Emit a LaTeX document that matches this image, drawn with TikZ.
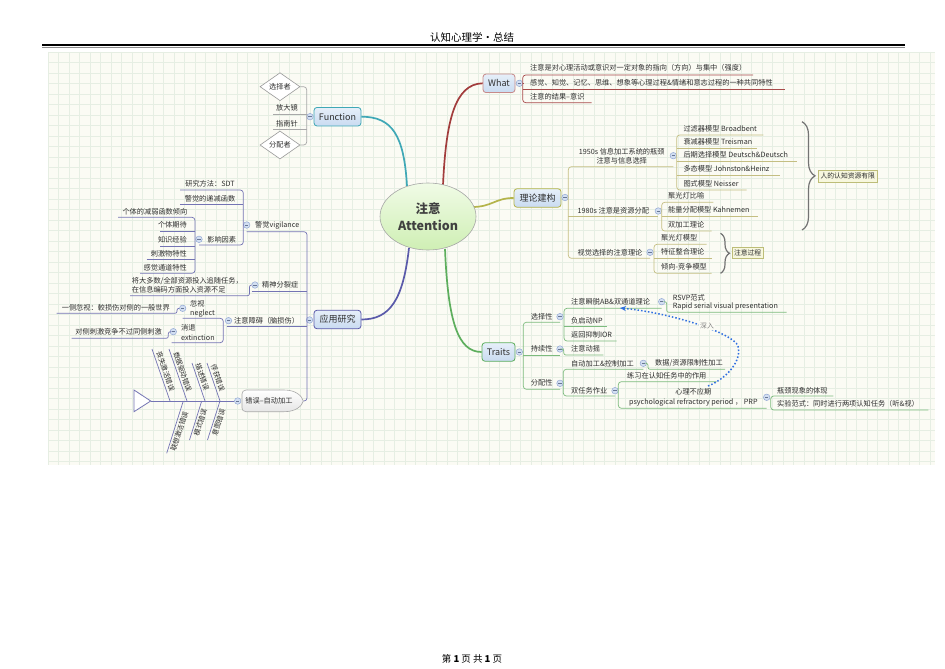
\documentclass[tikz,border=0pt]{standalone}
\usepackage{fontspec}
\setmainfont{Noto Sans CJK SC}
\usetikzlibrary{arrows.meta,shapes.geometric,decorations.pathreplacing,calc}
\definecolor{txt}{HTML}{2E2E2E}
\definecolor{gridbg}{HTML}{FBFBF4}
\definecolor{gridln}{HTML}{E6EEE3}
\definecolor{cred}{HTML}{A23C3C}
\definecolor{cteal}{HTML}{3FA8B6}
\definecolor{colive}{HTML}{B4B44A}
\definecolor{cgreen}{HTML}{5DAE5D}
\definecolor{cpurp}{HTML}{5A5AAA}
\definecolor{lred}{HTML}{A84A4A}
\definecolor{lgray}{HTML}{A8A8A8}
\definecolor{lolive}{HTML}{C4BE82}
\definecolor{lgreen}{HTML}{7DBB7D}
\definecolor{lpurp}{HTML}{7474B4}
\definecolor{topf1}{HTML}{E6EFF9}
\definecolor{topf2}{HTML}{C9DBF1}
\definecolor{circf}{HTML}{D3DFF2}
\definecolor{circd}{HTML}{93A8D4}
\definecolor{boxf}{HTML}{F7F7DE}
\definecolor{boxd}{HTML}{BDBD78}
\definecolor{dotb}{HTML}{2F6FE0}
\definecolor{ellf1}{HTML}{F0FBE6}
\definecolor{ellf2}{HTML}{CFEFB4}
\tikzset{
  t/.style={font=\fontsize{7.2}{9.5}\selectfont, inner sep=0pt, text=txt},
  tl/.style={t, anchor=west},
  tr/.style={t, anchor=east},
  fb/.style={font=\fontsize{6.9}{8}\selectfont, inner sep=0pt, text=txt},
  coll/.style={circle, draw=circd, fill=circf, line width=0.5pt, minimum size=6.5pt, inner sep=0pt,
     path picture={\draw[circd!70!black, line width=0.6pt] ([xshift=-1.7pt]path picture bounding box.center) -- ([xshift=1.7pt]path picture bounding box.center);}},
  topic/.style={draw=#1, rounded corners=3pt, top color=topf1, bottom color=topf2, line width=0.8pt, minimum height=18.5pt, inner xsep=3pt, font=\fontsize{9}{10}\selectfont, text=txt},
  mainc/.style={line width=1.7pt},
  sl/.style={line width=0.7pt, rounded corners=3pt},
  note/.style={draw=boxd, fill=boxf, line width=0.6pt, inner xsep=2pt, inner ysep=2.5pt, font=\fontsize{6.8}{8}\selectfont, text=txt},
  brc/.style={decorate, draw=black!55, line width=1.2pt},
  dia/.style={diamond, aspect=1.45, draw=black!40, fill=white, line width=0.6pt, inner sep=1pt, minimum width=40pt, minimum height=28pt, font=\fontsize{7.2}{9}\selectfont, text=txt},
}
\begin{document}
\begin{tikzpicture}[x=1pt,y=-1pt]
\useasboundingbox (0,0) rectangle (945,669);
\fill[white] (0,0) rectangle (945,669);
% header / footer
\node[font=\fontsize{10.5}{12}\selectfont, text=black] (hdr) at (472,37) {认知心理学·总结};
\draw[line width=1.3pt] (42,45) -- (905,45);
\draw[black!45, line width=0.5pt] (42,47.6) -- (905,47.6);
\node[font=\fontsize{9.5}{11}\selectfont, text=black] (ftr) at (472,659) {第 \textbf{1} 页 共 \textbf{1} 页};
% grid background
\fill[gridbg] (48,52) rectangle (935,465);
\foreach \i in {0,...,84} \draw[gridln, line width=0.4pt] ({48+\i*10.5},52) -- ({48+\i*10.5},465);
\foreach \j in {0,...,39} \draw[gridln, line width=0.4pt] (48,{52+\j*10.5}) -- (935,{52+\j*10.5});

% ---------- main connectors ----------
\coordinate (cw) at (443,185);
\coordinate (cf) at (407,186);
\coordinate (cl) at (472,207);
\coordinate (ct) at (445,249);
\coordinate (cy) at (409,248);
\node[topic=cred!60, minimum width=32pt] (what) at (499,83.3) {What};
\node[topic=cteal, minimum width=47pt] (fn) at (337.5,116.7) {Function};
\node[topic=colive, minimum width=47pt] (ll) at (537.5,198) {理论建构};
\node[topic=cgreen, minimum width=33pt] (tr) at (498.5,352) {Traits};
\node[topic=cpurp, minimum width=47pt] (yy) at (337.5,319.5) {应用研究};
\draw[cred, mainc] (cw) .. controls (446,120) and (455,84) .. (what.west);
\draw[cteal, mainc] (cf) .. controls (404,135) and (392,116.7) .. (fn.east);
\draw[colive, mainc] (cl) .. controls (492,207) and (495,198) .. (ll.west);
\draw[cgreen, mainc] (ct) .. controls (448,322) and (458,352) .. (tr.west);
\draw[cpurp, mainc] (cy) .. controls (403,300) and (390,319.5) .. (yy.east);
% central topic
\node[ellipse, draw=black!35, line width=0.6pt, top color=ellf1, bottom color=ellf2, minimum width=96pt, minimum height=67pt, align=center, font=\fontsize{12.5}{17}\selectfont\bfseries, text=black!75] (ctr) at (428,216.5) {注意\\Attention};

% ---------- What ----------
\node[coll] (whatc) at (519.3,83.3) {};
\node[tl] (w1) at (530,67.5) {注意是对心理活动或意识对一定对象的指向（方向）与集中（强度）};
\node[tl] (w2) at (530,83) {感觉、知觉、记忆、思维、想象等心理过程\&情绪和意志过程的一种共同特性};
\node[tl] (w3) at (530,96.3) {注意的结果--意识};
\draw[lred, sl] (753,75) -- (522.7,75) -- (522.7,102.7) -- (591.7,102.7);
\draw[lred, sl] (522.7,89.3) -- (785,89.3);
\draw[lred, sl] (whatc.east) -- (522.7,83.3);

% ---------- Function ----------
\node[coll] (fnc) at (310,116.7) {};
\node[dia] (d1) at (280,86.7) {选择者};
\node[dia] (d2) at (280,145) {分配者};
\node[t] (f2) at (287,108.2) {放大镜};
\node[t] (f3) at (287,123.3) {指南针};
\draw[lgray, sl] (d1.east) -- (306.7,86.7) -- (306.7,145) -- (d2.east);
\draw[lgray, sl] (273,114) -- (306.7,114);
\draw[lgray, sl] (273,129.3) -- (306.7,129.3);

% ---------- 理论建构 ----------
\node[coll] (llc) at (565,197.5) {};
\node[t, align=center] (l1) at (621.7,156) {1950s 信息加工系统的瓶颈\\注意与信息选择};
\node[t] (l2) at (613.3,211) {1980s 注意是资源分配};
\node[t] (l3) at (610,252.3) {视觉选择的注意理论};
\node[coll] (l1c) at (673.3,155.7) {};
\node[coll] (l2c) at (658.3,211) {};
\node[coll] (l3c) at (650,252.3) {};
\draw[lolive, sl] (673.3,166.7) -- (568.3,166.7) -- (568.3,258.3) -- (650,258.3);
\draw[lolive, sl] (568.3,216.7) -- (658.3,216.7);
% 1950s children
\node[tl] (a1) at (683.3,128.5) {过滤器模型 Broadbent};
\node[tl] (a2) at (683.3,141.8) {衰减器模型 Treisman};
\node[tl] (a3) at (683.3,155.2) {后期选择模型 Deutsch\&Deutsch};
\node[tl] (a4) at (683.3,169.2) {多态模型 Johnston\&Heinz};
\node[tl] (a5) at (683.3,183.5) {图式模型 Neisser};
\draw[lolive, sl] (763.3,135) -- (676.7,135) -- (676.7,190) -- (746.7,190);
\draw[lolive, sl] (676.7,148.3) -- (756.7,148.3);
\draw[lolive, sl] (676.7,161.7) -- (796.7,161.7);
\draw[lolive, sl] (676.7,175.7) -- (780,175.7);
% 1980s children
\node[tl] (b1) at (668,195.8) {聚光灯比喻};
\node[tl] (b2) at (668,210.2) {能量分配模型 Kahnemen};
\node[tl] (b3) at (668,224.5) {双加工理论};
\draw[lolive, sl] (713.3,202.3) -- (661.7,202.3) -- (661.7,231) -- (711.7,231);
\draw[lolive, sl] (661.7,216.7) -- (758.3,216.7);
% visual children
\node[tl] (c1) at (661,237.8) {聚光灯模型};
\node[tl] (c2) at (661,251.8) {特征整合理论};
\node[tl] (c3) at (661,266.8) {倾向-竞争模型};
\draw[lolive, sl] (706.7,244.3) -- (654,244.3) -- (654,273.3) -- (711.7,273.3);
\draw[lolive, sl] (654,258.3) -- (711.7,258.3);
% braces
\draw[brc, decoration={brace, amplitude=13pt}] (802,121.7) -- (802,230);
\node[note, anchor=west] (n1) at (818.3,176.3) {人的认知资源有限};
\draw[brc, decoration={brace, amplitude=9pt}] (720.5,233.3) -- (720.5,273.3);
\node[note, anchor=west] (n2) at (731.7,252.5) {注意过程};

% ---------- Traits ----------
\node[coll] (trc) at (519.3,352) {};
\node[t] (s1) at (541.7,316.3) {选择性};
\node[t] (s2) at (541.7,348.8) {持续性};
\node[t] (s3) at (541.7,383) {分配性};
\node[coll] (s1c) at (560,316.7) {};
\node[coll] (s2c) at (560,349) {};
\node[coll] (s3c) at (560,383.3) {};
\draw[lgreen, sl] (560,322.3) -- (523.3,322.3) -- (523.3,389.3) -- (560,389.3);
\draw[lgreen, sl] (523.3,355) -- (560,355);
% selectivity
\node[tl] (x1) at (571,301.7) {注意瞬脱AB\&双通道理论};
\node[tl] (x2) at (571,320.3) {负启动NP};
\node[tl] (x3) at (571,334.7) {返回抑制IOR};
\node[coll] (x1c) at (661.7,301.7) {};
\draw[lgreen, sl] (661.7,308.3) -- (564,308.3) -- (564,341) -- (616.7,341);
\draw[lgreen, sl] (564,326.7) -- (607.3,326.7);
\node[tl] (rs1) at (672.7,297.7) {RSVP范式};
\node[tl] (rs2) at (672.7,306.5) {Rapid serial visual presentation};
\draw[lgreen, line width=0.7pt, rounded corners=2pt] (x1c.east) -- (666.7,301.7) -- (666.7,312.3) -- (786.7,312.3);
% sustained
\node[tl] (y1) at (571,349) {注意动摇};
\draw[lgreen, line width=0.7pt, rounded corners=2pt] (s2c.east) -- (563.8,349) -- (563.8,355) -- (603.3,355);
% divided
\node[tl] (z1) at (571,363.3) {自动加工\&控制加工};
\node[tl] (z2) at (571,390.5) {双任务作业};
\node[coll] (z1c) at (643.3,363.3) {};
\node[coll] (z2c) at (615,390.7) {};
\draw[lgreen, sl] (643.3,369.3) -- (563.3,369.3) -- (563.3,396) -- (615,396);
\node[tl] (z11) at (655,363.3) {数据/资源限制性加工};
\draw[lgreen, line width=0.7pt, rounded corners=2pt] (z1c.east) -- (648,363.3) -- (648,369.3) -- (725,369.3);
\node[tl] (z21) at (627,376) {练习在认知任务中的作用};
\node[t, align=center] (z22) at (693.3,397.2) {心理不应期\\psychological refractory period ， PRP};
\node[coll] (z22c) at (766.7,397.3) {};
\draw[lgreen, sl] (716.7,381.7) -- (618.3,381.7) -- (618.3,408.3) -- (766.7,408.3);
\node[tl] (p1) at (777,390.5) {瓶颈现象的体现};
\node[tl] (p2) at (777,404) {实验范式：同时进行两项认知任务（听\&视）};
\draw[lgreen, sl] (833.3,396) -- (770.7,396) -- (770.7,410) -- (928.3,410);
% dotted relation
\draw[dotb, line width=1.5pt, dotted, -{Stealth[length=6pt,width=5pt]}] (708,386) .. controls (728,378) and (742,360) .. (738,346) .. controls (733,333) and (672,313) .. (620,308);
\node[fill=gridbg, inner sep=1pt, font=\fontsize{6.8}{8}\selectfont, text=black!50] (sr) at (707,325.5) {深入};

% ---------- 应用研究 ----------
\node[coll] (yyc) at (309.5,320) {};
\node[tl] (v1) at (255,225) {警觉vigilance};
\node[tl] (v2) at (262,285) {精神分裂症};
\node[tl] (v3) at (234,320.7) {注意障碍（脑损伤）};
\node[coll] (v1c) at (246.7,225) {};
\node[coll] (v2c) at (255,285) {};
\node[coll] (v3c) at (228.5,320.7) {};
\draw[lpurp, sl] (246.7,231.7) -- (307,231.7) -- (307,401) -- (303.3,401);
\draw[lpurp, sl] (251.7,291.7) -- (307,291.7);
\draw[lpurp, sl] (226.7,326) -- (307,326);
% vigilance
\node[t] (v11) at (210,184) {研究方法：SDT};
\node[t] (v12) at (210,198.3) {警觉的递减函数};
\node[t] (v13) at (221.7,239.3) {影响因素};
\node[coll] (v13c) at (199,239.3) {};
\draw[lpurp, sl] (180,190) -- (243.3,190) -- (243.3,245) -- (199,245);
\draw[lpurp, sl] (180,204) -- (243.3,204);
\node[tr] (u1) at (187.5,211.7) {个体的减弱函数倾向};
\node[tr] (u2) at (187,225) {个体期待};
\node[tr] (u3) at (187,239.3) {知识经验};
\node[tr] (u4) at (187,253.3) {刺激物特性};
\node[tr] (u5) at (187,267.3) {感觉通道特性};
\draw[lpurp, sl] (118,217.3) -- (195,217.3) -- (195,273.3) -- (140,273.3);
\draw[lpurp, sl] (160,231.7) -- (195,231.7);
\draw[lpurp, sl] (160,246) -- (195,246);
\draw[lpurp, sl] (146.7,259.3) -- (195,259.3);
% schizophrenia
\node[t, align=left, anchor=west] (v21) at (131.7,285.4) {将大多数/全部资源投入追随任务，\\在信息编码方面投入资源不足};
\draw[lpurp, line width=0.7pt, rounded corners=2pt] (130,295.7) -- (249.5,295.7) -- (249.5,285) -- (v2c.west);
% disorders
\node[t, align=left, anchor=west] (v31) at (190,308.7) {忽视\\neglect};
\node[t, align=left, anchor=west] (v32) at (181,332.5) {消退\\extinction};
\node[coll] (v31c) at (182.7,308.3) {};
\node[coll] (v32c) at (173.3,331.7) {};
\draw[lpurp, sl] (182.7,318.3) -- (223.3,318.3) -- (223.3,342.7) -- (171.7,342.7);
\node[tr] (v311) at (170,307.6) {一侧忽视：較损伤对侧的一般世界};
\draw[lpurp, line width=0.7pt, rounded corners=2pt] (v31c.west) -- (177,308.3) -- (177,313.3) -- (56.7,313.3);
\node[tr] (v321) at (162,331.7) {对侧刺激竞争不过同侧刺激};
\draw[lpurp, line width=0.7pt, rounded corners=2pt] (v32c.west) -- (168.3,331.7) -- (168.3,338.3) -- (71.7,338.3);
% fishbone
\node[coll] (fhc) at (237.7,401) {};
\draw[lgray, line width=0.6pt, top color=white, bottom color=black!10] (246,390) -- (284,390) .. controls (296,390) and (302,396) .. (303.3,401) .. controls (302,406) and (296,411.7) .. (284,411.7) -- (246,411.7) .. controls (243.5,411.7) and (242,410) .. (242,408) -- (242,394) .. controls (242,392) and (243.5,390) .. (246,390) -- cycle;
\node[t] (fh) at (269,401) {错误--自动加工};
\draw[lpurp, line width=0.8pt] (150.7,401) -- (fhc.west);
\draw[lpurp, line width=0.8pt, fill=white] (134,390) -- (150.7,401) -- (134,411.7) -- cycle;
\draw[lpurp, line width=0.7pt] (152,349) -- (170,401);
\draw[lpurp, line width=0.7pt] (169,349) -- (187,401);
\draw[lpurp, line width=0.7pt] (192,363) -- (205,401);
\draw[lpurp, line width=0.7pt] (207,363) -- (220,401);
\draw[lpurp, line width=0.7pt] (183.3,401) -- (166.7,453.3);
\draw[lpurp, line width=0.7pt] (201.7,401) -- (189.5,440);
\draw[lpurp, line width=0.7pt] (220,401) -- (207.5,440);
\node[fb, rotate=-71] (e1) at (165.5,371.5) {丧失激活错误};
\node[fb, rotate=-71] (e2) at (182.5,372) {数据驱动错误};
\node[fb, rotate=-71] (e3) at (202.3,377) {描述错误};
\node[fb, rotate=-71] (e4) at (217.8,378) {俘获错误};
\node[fb, rotate=72] (e5) at (179.3,431.5) {联想激活错误};
\node[fb, rotate=72] (e6) at (200.3,422.5) {模式错误};
\node[fb, rotate=72] (e7) at (218.5,422.5) {意图错误};
\end{tikzpicture}
\end{document}
